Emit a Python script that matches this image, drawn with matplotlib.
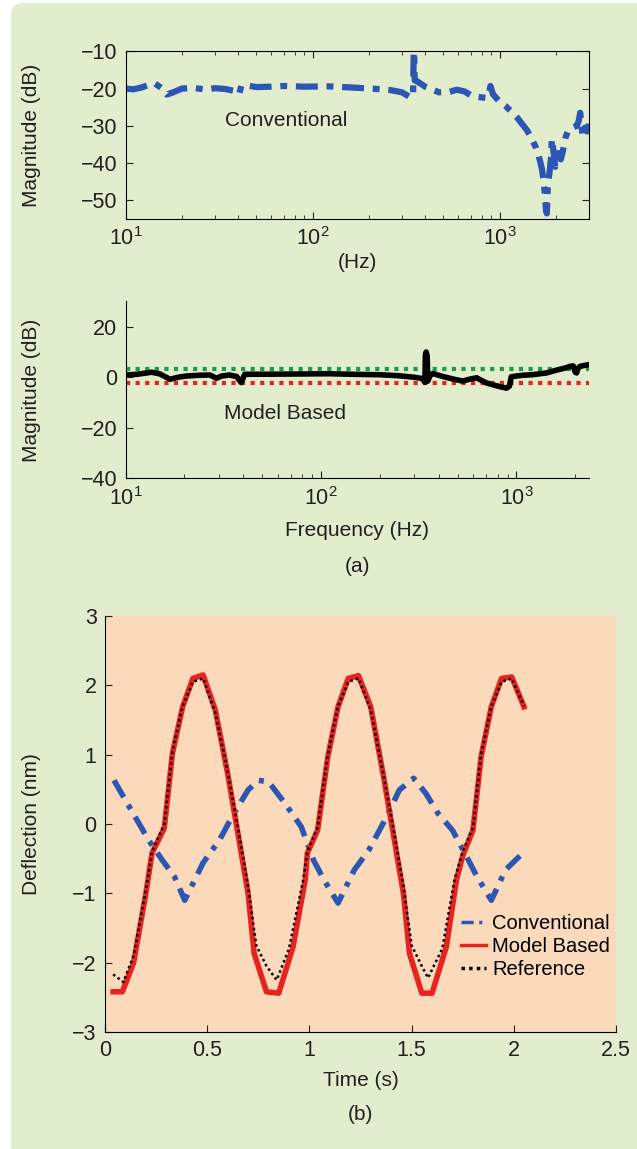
import matplotlib
matplotlib.use("Agg")
import matplotlib.pyplot as plt
from matplotlib.patches import FancyBboxPatch
from matplotlib.transforms import IdentityTransform
from matplotlib.ticker import FuncFormatter, NullFormatter

plt.rcParams["font.family"] = ["Liberation Sans", "DejaVu Sans"]
plt.rcParams["mathtext.fontset"] = "custom"
plt.rcParams["mathtext.rm"] = "Liberation Sans"
plt.rcParams["mathtext.it"] = "Liberation Sans:italic"

# %% data

# (a) top: conventional magnitude response
conv_freq = [10, 11, 12, 13, 14.3, 15.5, 16.6, 18, 20, 23, 27, 30, 34, 38, 40.5,
             41.5, 45, 50, 60, 70, 90, 120, 160, 220, 260, 300, 334, 344, 347,
             349, 351, 360, 400, 473, 530, 590, 650, 710, 780, 840, 870, 892,
             920, 1000, 1080, 1160, 1240, 1312, 1400, 1483, 1560, 1615, 1680,
             1720, 1750, 1766, 1785, 1808, 1850, 1880, 1900, 1940, 1980, 2030,
             2080, 2120, 2170, 2250, 2335, 2450, 2583, 2650, 2690, 2730, 2770,
             2850, 2930, 3000]
conv_mag = [-20, -20.2, -19.8, -19.2, -18.6, -19.8, -21.6, -21, -20, -19.8, -20.3,
            -19.9, -20.1, -20.6, -21.5, -19.3, -19.2, -19.6, -19.5, -19.3, -19.5,
            -19.4, -19.7, -20.1, -20.4, -21.0, -22.4, -22.0, -10.0, -11.0, -17.8,
            -18.0, -19.5, -21, -21, -20.3, -20.8, -22.0, -22.3, -22.5, -22.0,
            -19.3, -21.5, -23.6, -24.8, -26.3, -27.8, -29.4, -31.2, -33.5, -35.8,
            -38, -41.5, -45.2, -49.5, -52.4, -53.5, -46, -42, -38.5, -33.5, -37,
            -41, -38, -35.5, -39, -37, -33, -31, -30.5, -30, -28.5, -26.5, -29,
            -33, -30.5, -31.5, -29.5]

# (a) bottom: model based magnitude response + bounds
mb_freq = [10, 11.5, 13.6, 15, 16.9, 18.5, 20.5, 24, 27, 29.2, 31, 34, 37, 39,
           40.7, 50, 78, 110, 140, 200, 250, 300, 330, 340, 342, 345, 349, 352,
           360, 373, 420, 480, 530, 580, 625, 660, 700, 760, 820, 890, 920, 940,
           1000, 1080, 1200, 1420, 1600, 1800, 1870, 1950, 2000, 2030, 2060,
           2110, 2200, 2350]
mb_mag = [0.9, 1.2, 2.0, 1.3, -0.8, 0, 0.5, 0.8, 0.9, -0.4, 0.5, 0.9, 0.3, -2.1,
          1.2, 1.2, 1.3, 1.4, 1.2, 1.0, 0.6, 0, -0.5, -2.0, 9.0, 10.0, 8.5, -1.5,
          0.5, 1.5, 0.3, -0.8, -1.5, -0.7, -0.2, -1.2, -2.2, -3.0, -3.7, -4.3,
          -3.5, 0.2, 0.5, 0.8, 1.0, 1.7, 2.8, 3.8, 4.3, 4.5, 2.0, 1.7, 3.5, 4.3,
          4.6, 5.0]
upper_bound = 3.3
lower_bound = -2.3

# (b) time response
t_conv = [0.044, 0.213, 0.28, 0.34, 0.39, 0.48, 0.56, 0.63, 0.70, 0.75, 0.80,
          0.88, 0.96, 1.02, 1.07, 1.14, 1.22, 1.29, 1.37, 1.44, 1.51, 1.57,
          1.63, 1.70, 1.76, 1.82, 1.89, 1.96, 2.03]
y_conv = [0.63, -0.23, -0.52, -0.76, -1.1, -0.56, -0.23, 0.15, 0.49, 0.63, 0.61,
          0.3, -0.04, -0.52, -0.8, -1.14, -0.66, -0.38, 0.06, 0.49, 0.66, 0.44,
          0.15, -0.09, -0.42, -0.76, -1.1, -0.66, -0.46]

t_mb = [0.04, 0.085, 0.14, 0.20, 0.23, 0.29, 0.33, 0.38, 0.43, 0.48, 0.54, 0.60,
        0.65, 0.70, 0.73, 0.79, 0.85, 0.92, 0.98, 0.99, 1.04, 1.09, 1.14, 1.19,
        1.24, 1.30, 1.36, 1.41, 1.46, 1.49, 1.55, 1.60, 1.67, 1.72, 1.75, 1.80,
        1.84, 1.89, 1.94, 1.99, 2.05]
y_mb = [-2.42, -2.42, -2.0, -1.0, -0.42, -0.06, 1.02, 1.69, 2.1, 2.15, 1.64, 0.73,
        -0.13, -1.0, -1.87, -2.42, -2.44, -1.77, -0.8, -0.42, -0.09, 0.97, 1.69,
        2.1, 2.14, 1.69, 0.73, -0.13, -1.0, -1.87, -2.44, -2.44, -1.77, -0.8,
        -0.46, -0.09, 0.97, 1.69, 2.1, 2.12, 1.69]

t_ref = [0.04, 0.09, 0.14, 0.20, 0.23, 0.29, 0.33, 0.38, 0.43, 0.48, 0.54, 0.60,
         0.65, 0.70, 0.74, 0.79, 0.84, 0.90, 0.97, 0.99, 1.04, 1.09, 1.14, 1.19,
         1.24, 1.30, 1.36, 1.41, 1.46, 1.50, 1.55, 1.58, 1.65, 1.71, 1.75, 1.80,
         1.84, 1.89, 1.94, 1.99, 2.05]
y_ref = [-2.17, -2.28, -1.9, -0.95, -0.4, 0.0, 1.05, 1.7, 2.05, 2.1, 1.6, 0.75,
         -0.05, -0.9, -1.75, -2.05, -2.25, -1.8, -0.8, -0.4, -0.05, 1.0, 1.7, 2.05,
         2.1, 1.65, 0.75, -0.05, -0.9, -1.75, -2.05, -2.22, -1.8, -0.8, -0.4,
         -0.05, 1.0, 1.7, 2.05, 2.1, 1.7]

# %% layout

W, H = 637, 1149
BG = "#e2edcd"
PEACH = "#fbd9bb"
BLUE = "#2c56b3"
RED = "#e8231f"
GREEN = "#1f9a4c"
TXT = "#231f20"
FS = 15.5   # tick labels
LFS = 15    # axis labels / annotations


def px_axes(fig, left, top, right, bottom):
    return fig.add_axes([left / W, 1 - bottom / H, (right - left) / W, (bottom - top) / H])


fig = plt.figure(figsize=(W / 100, H / 100), dpi=100, facecolor="white")

panel = FancyBboxPatch((11, -60), 720, H - 3 + 60, boxstyle="round,pad=0,rounding_size=12",
                       transform=IdentityTransform(), facecolor=BG, edgecolor="none", zorder=-5)
fig.add_artist(panel)

dash_dot = (0, (3.5, 1.4, 1.1, 1.4))

# top panel
ax1 = px_axes(fig, 125.6, 51.3, 589, 219)
ax1.set_facecolor("none")
ax1.semilogx(conv_freq, conv_mag, color=BLUE, lw=4.5, linestyle=dash_dot, dash_capstyle="butt")
ax1.set_xlim(10, 3000)
ax1.set_ylim(-55, -10)
ax1.set_yticks([-50, -40, -30, -20, -10])
ax1.tick_params(which="both", direction="in", top=True, right=True, colors=TXT,
                labelsize=FS, pad=6)
ax1.tick_params(which="major", length=5)
ax1.tick_params(which="minor", length=3)
ax1.xaxis.set_minor_formatter(NullFormatter())
ax1.set_ylabel("Magnitude (dB)", fontsize=LFS, color=TXT)
ax1.yaxis.set_label_coords((40.6 - 125.6) / (589 - 125.6), 0.5)
ax1.text(34, -28.6, "Conventional", fontsize=LFS, color=TXT, va="center")
fig.text(357 / W, 1 - 262 / H, "(Hz)", fontsize=LFS, color=TXT, ha="center", va="center")

# middle panel
ax2 = px_axes(fig, 125.6, 301.5, 589, 478.3)
ax2.set_facecolor("none")
ax2.semilogx(mb_freq, mb_mag, color="black", lw=4, zorder=3)
ax2.axhline(upper_bound, color=GREEN, lw=3, linestyle=(0, (1, 1.3)), zorder=2)
ax2.axhline(lower_bound, color=RED, lw=3, linestyle=(0, (1, 1.3)), zorder=2)
ax2.set_xlim(10, 2350)
ax2.set_ylim(-40, 30)
ax2.set_yticks([-40, -20, 0, 20])
for s in ("top", "right"):
    ax2.spines[s].set_visible(False)
ax2.tick_params(which="both", direction="in", colors=TXT, labelsize=FS, pad=6)
ax2.tick_params(which="major", length=5)
ax2.tick_params(which="minor", length=3)
ax2.xaxis.set_minor_formatter(NullFormatter())
ax2.set_ylabel("Magnitude (dB)", fontsize=LFS, color=TXT)
ax2.yaxis.set_label_coords((40.6 - 125.6) / (589 - 125.6), 0.5)
ax2.text(32, -14.3, "Model Based", fontsize=LFS, color=TXT, va="center")
fig.text(357 / W, 1 - 531 / H, "Frequency (Hz)", fontsize=LFS, color=TXT, ha="center", va="center")
fig.text(357 / W, 1 - 567 / H, "(a)", fontsize=LFS, color=TXT, ha="center", va="center")

# bottom panel
ax3 = px_axes(fig, 105, 616, 616, 1032)
ax3.set_facecolor(PEACH)
ax3.plot(t_conv, y_conv, color=BLUE, lw=4, linestyle=(0, (3.5, 1.6, 0.9, 1.6)),
         dash_capstyle="butt", label="Conventional", zorder=2)
ax3.plot(t_mb, y_mb, color=RED, lw=4, label="Model Based", zorder=3)
ax3.plot(t_ref, y_ref, color="black", lw=1.8, linestyle=(0, (1, 1.2)), label="Reference", zorder=4)
ax3.set_xlim(0, 2.5)
ax3.set_ylim(-3, 3)
ax3.set_xticks([0, 0.5, 1, 1.5, 2, 2.5])
ax3.set_yticks([-3, -2, -1, 0, 1, 2, 3])
fmt = FuncFormatter(lambda v, p: f"{v:g}".replace("-", "\u2212"))
ax3.xaxis.set_major_formatter(fmt)
ax3.yaxis.set_major_formatter(fmt)
for s in ("top", "right"):
    ax3.spines[s].set_visible(False)
ax3.tick_params(direction="in", length=5, colors=TXT, labelsize=FS, pad=6)
ax3.set_ylabel("Deflection (nm)", fontsize=LFS, color=TXT)
ax3.yaxis.set_label_coords((40.6 - 105) / (616 - 105), 0.5)
leg = ax3.legend(loc="upper left", bbox_to_anchor=((461 - 105) / 511, (1032 - 914) / 416),
                 frameon=False, fontsize=14.5, handlelength=1.25, handletextpad=0.3,
                 labelspacing=0.2, borderpad=0, borderaxespad=0)
for h in leg.get_lines():
    h.set_linewidth(2.5)
fig.text(360.5 / W, 1 - 1080 / H, "Time (s)", fontsize=LFS, color=TXT, ha="center", va="center")
fig.text(360.5 / W, 1 - 1115 / H, "(b)", fontsize=LFS, color=TXT, ha="center", va="center")

fig.savefig("out.png", dpi=100, facecolor="white")
